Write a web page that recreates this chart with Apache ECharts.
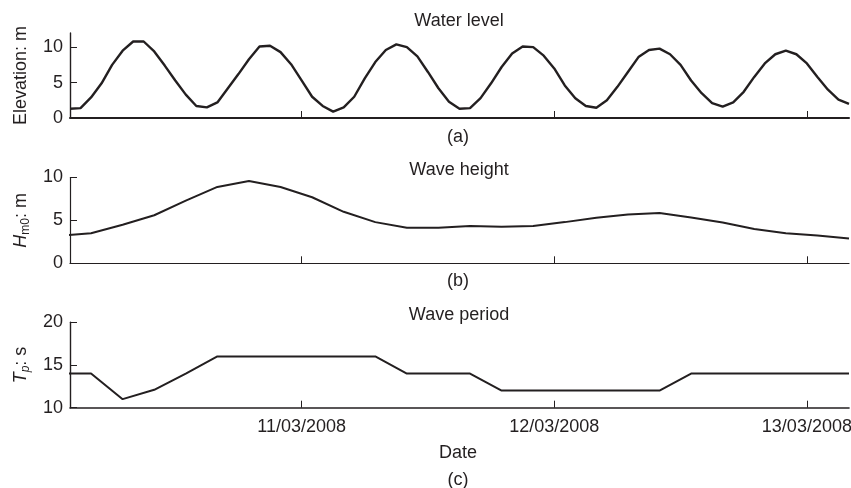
<!DOCTYPE html>
<html>
<head>
<meta charset="utf-8">
<title>Water level, wave height and wave period</title>
<script src="https://cdn.jsdelivr.net/npm/echarts@6/dist/echarts.min.js"></script>
<style>
html, body { margin: 0; padding: 0; background: #fff; }
#chart { width: 851px; height: 488px; }
</style>
</head>
<body>
<div id="chart"></div>
<script>
// water level, hourly, first value at 10/03/2008 02:00
var levelStart = '2008-03-10 02:00';
var waterLevel = [
  1.3, 1.4, 2.9, 4.9, 7.5, 9.5, 10.8, 10.8, 9.4, 7.4,
  5.3, 3.3, 1.7, 1.5, 2.2, 4.2, 6.2, 8.3, 10.1, 10.2,
  9.3, 7.6, 5.3, 3.0, 1.7, 0.9, 1.5, 3.0, 5.6, 7.9,
  9.6, 10.4, 10.0, 8.7, 6.5, 4.2, 2.3, 1.3, 1.4, 2.8,
  4.9, 7.2, 9.1, 10.1, 10.0, 8.8, 7.0, 4.6, 2.8, 1.7,
  1.45, 2.5, 4.4, 6.5, 8.6, 9.6, 9.8, 9.0, 7.5, 5.3,
  3.5, 2.1, 1.6, 2.2, 3.7, 5.8, 7.7, 9.0, 9.5, 9.0,
  7.7, 5.8, 4.0, 2.6, 2.0
];

// wave data, every 3 hours, first value at 10/03/2008 01:00 (just left of the axis)
var waveStart = '2008-03-10 01:00';
var waveHeight = [
  3.2, 3.5, 4.5, 5.6, 7.3, 8.9, 9.6, 8.9, 7.7, 6.0,
  4.8, 4.15, 4.15, 4.35, 4.25, 4.35, 4.8, 5.3, 5.7, 5.85,
  5.35, 4.75, 4.0, 3.5, 3.25, 2.9
];
var wavePeriod = [
  14, 14, 11, 12.1, 14, 16, 16, 16, 16, 16,
  16, 14, 14, 14, 12, 12, 12, 12, 12, 12,
  14, 14, 14, 14, 14, 14
];

var dayLabels = ['11/03/2008', '12/03/2008', '13/03/2008'];
var xStart = '2008-03-10 02:00';
var xEnd = '2008-03-13 04:00';

var HOUR = 3600 * 1000;
var FONT = "'Liberation Sans', Arial, sans-serif";
var INK = '#231f20';

function toMs(s) {
  var p = s.split(/[- :]/);
  return Date.UTC(+p[0], +p[1] - 1, +p[2], +p[3], +p[4]);
}
function dayMs(s) {
  var p = s.split('/');
  return Date.UTC(+p[2], +p[1] - 1, +p[0]);
}
function pad(n) { return (n < 10 ? '0' : '') + n; }
function fmtDay(v) {
  var d = new Date(v);
  return pad(d.getUTCDate()) + '/' + pad(d.getUTCMonth() + 1) + '/' + d.getUTCFullYear();
}
function series(start, step, values) {
  var t0 = toMs(start);
  return values.map(function (v, i) { return [t0 + i * step, v]; });
}

var dayTicks = dayLabels.map(dayMs);

function xAxisFor(idx, showLabels, w) {
  return {
    type: 'value', gridIndex: idx,
    min: toMs(xStart), max: toMs(xEnd),
    axisLine: { show: true, onZero: false, lineStyle: { color: INK, width: w } },
    axisTick: { show: true, inside: true, length: 7, customValues: dayTicks,
      lineStyle: { color: INK, width: 1 } },
    axisLabel: { show: showLabels, customValues: dayTicks, formatter: fmtDay, margin: 10,
      color: INK, fontSize: 18, fontFamily: FONT },
    splitLine: { show: false }
  };
}

function yAxisFor(idx, min, max, ticks, name, w) {
  return {
    type: 'value', gridIndex: idx, min: min, max: max,
    name: name, nameLocation: 'middle', nameGap: 40,
    nameTextStyle: {
      color: INK, fontSize: 18, fontFamily: FONT, lineHeight: 18,
      rich: {
        i: { fontStyle: 'italic', fontSize: 18, fontFamily: FONT, color: INK, lineHeight: 18, verticalAlign: 'middle' },
        n: { fontSize: 18, fontFamily: FONT, color: INK, lineHeight: 18, verticalAlign: 'middle' },
        s: { fontSize: 12, fontFamily: FONT, color: INK, lineHeight: 12, padding: [10, 0, 0, 0], verticalAlign: 'middle' },
        si: { fontSize: 12, fontStyle: 'italic', fontFamily: FONT, color: INK, lineHeight: 12, padding: [10, 0, 0, 0], verticalAlign: 'middle' }
      }
    },
    axisLine: { show: true, onZero: false, lineStyle: { color: INK, width: w } },
    axisTick: { show: true, inside: true, length: 7, customValues: ticks,
      lineStyle: { color: INK, width: 1 } },
    axisLabel: { customValues: ticks, margin: 7, color: INK, fontSize: 18, fontFamily: FONT },
    splitLine: { show: false }
  };
}

function label(text, x, y) {
  return {
    type: 'text', x: x, y: y,
    style: { text: text, fill: INK, font: '18px ' + FONT,
      align: 'center', verticalAlign: 'middle', textAlign: 'center', textVerticalAlign: 'middle' }
  };
}

var chart = echarts.init(document.getElementById('chart'));
chart.setOption({
  animation: false,
  backgroundColor: '#fff',
  grid: [
    { left: 70, right: 2, top: 33, height: 85, outerBoundsMode: 'none' },
    { left: 70, right: 2, top: 177.5, height: 85.8, outerBoundsMode: 'none' },
    { left: 70, right: 2, top: 322.3, height: 85.4, outerBoundsMode: 'none' }
  ],
  xAxis: [
    xAxisFor(0, false, 2),
    xAxisFor(1, false, 1.2),
    xAxisFor(2, true, 1.6)
  ],
  yAxis: [
    yAxisFor(0, 0, 12, [0, 5, 10], '{n|Elevation: m}', 1.4),
    yAxisFor(1, 0, 10, [0, 5, 10], '{i|H}{s|m0}{n|: m}', 1.2),
    yAxisFor(2, 10, 20, [10, 15, 20], '{i|T}{si|p}{n|: s}', 1.4)
  ],
  graphic: [
    label('Water level', 459, 21.5),
    label('(a)', 458, 137.5),
    label('Wave height', 459, 170),
    label('(b)', 458, 281.5),
    label('Wave period', 459, 315),
    label('Date', 458, 453),
    label('(c)', 458, 480)
  ],
  series: [
    { type: 'line', xAxisIndex: 0, yAxisIndex: 0, showSymbol: false,
      lineStyle: { color: INK, width: 2.4 }, data: series(levelStart, HOUR, waterLevel) },
    { type: 'line', xAxisIndex: 1, yAxisIndex: 1, showSymbol: false,
      lineStyle: { color: INK, width: 2 }, data: series(waveStart, 3 * HOUR, waveHeight) },
    { type: 'line', xAxisIndex: 2, yAxisIndex: 2, showSymbol: false,
      lineStyle: { color: INK, width: 2 }, data: series(waveStart, 3 * HOUR, wavePeriod) }
  ]
});
</script>
</body>
</html>
